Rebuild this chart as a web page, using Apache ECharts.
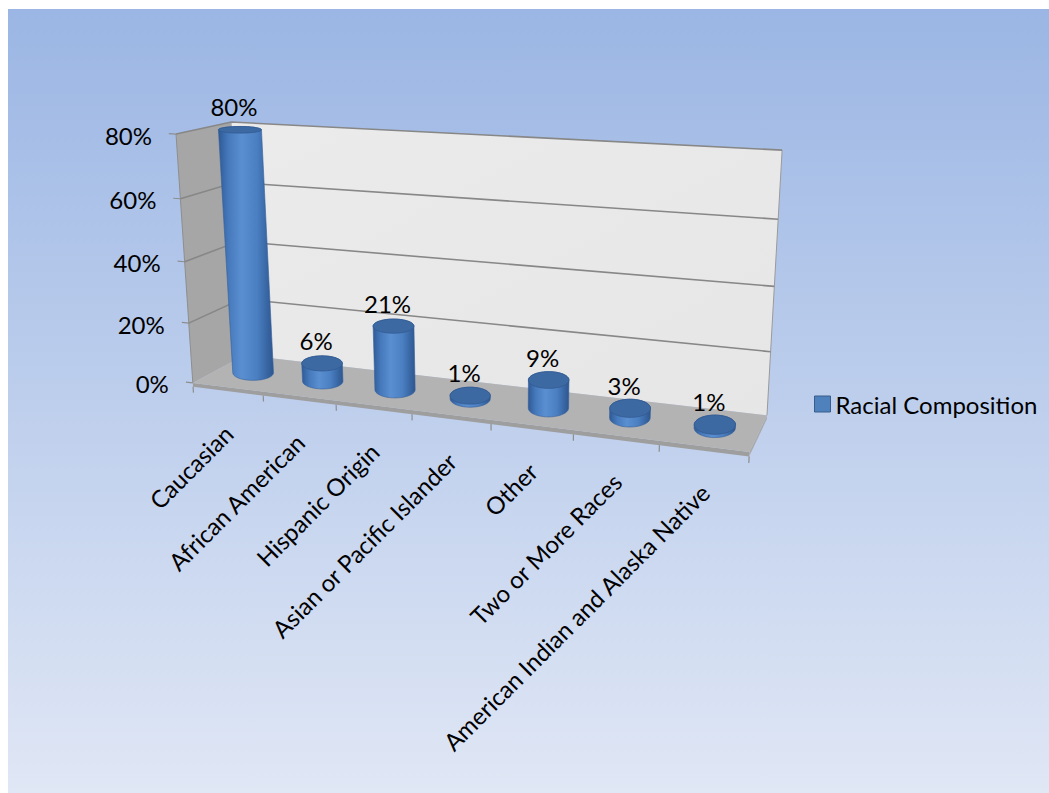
<!DOCTYPE html>
<html>
<head>
<meta charset="utf-8">
<script src="https://cdn.jsdelivr.net/npm/echarts@6/dist/echarts.min.js"></script>
<style>
  html, body { margin: 0; padding: 0; background: #ffffff; }
  #chart { width: 1049px; height: 793px; }
</style>
</head>
<body>
<div id="chart"></div>
<script>
// ---- data ----
const categories = [
  'Caucasian',
  'African American',
  'Hispanic Origin',
  'Asian or Pacific Islander',
  'Other',
  'Two or More Races',
  'American Indian and Alaska Native'
];
const shares = [0.80, 0.06, 0.21, 0.01, 0.09, 0.03, 0.01];
const valueTicks = [0, 0.2, 0.4, 0.6, 0.8];
const valueTickLabels = ['0%', '20%', '40%', '60%', '80%'];
const seriesName = 'Racial Composition';

// ---- layout / style ----
const FONT = 'Lato, "Open Sans", sans-serif';
const FONT_SIZE = 24;
const Y_MAX = 0.8;
const H_PER_UNIT = 10;          // world height units per 1.0 of value
const BOX_H = Y_MAX * H_PER_UNIT;
const NCAT = categories.length;

// Screen anchors of the 3D plot box (world X = category units, H = height, Z = depth 0 front..1 back).
// The perspective camera is solved from them by least squares.
const frontFloorX = [194, 264, 337, 412, 491, 573, 659, 750];
const viewAnchors = [];
frontFloorX.forEach(function (px, k) {
  viewAnchors.push([k, 0, 0, px, 383 + (px - 194) * 0.1241]);
});
viewAnchors.push(
  [0, 0, 1, 244, 355], [7, 0, 1, 767, 415],
  [0, 8, 1, 232, 122], [7, 8, 1, 782, 150],
  [0, 8, 0, 177, 135], [0, 6, 0, 180, 198], [0, 4, 0, 183, 262], [0, 2, 0, 187, 323],
  [7, 6, 1, 778, 218], [7, 4, 1, 775, 287], [7, 2, 1, 770, 353]
);

function solveCamera(anchors) {
  const S = 100, N = 11;
  const M = [], r = new Array(N).fill(0);
  for (let i = 0; i < N; i++) M.push(new Array(N).fill(0));
  function add(row, rhs) {
    for (let i = 0; i < N; i++) {
      r[i] += row[i] * rhs;
      for (let j = 0; j < N; j++) M[i][j] += row[i] * row[j];
    }
  }
  anchors.forEach(function (a) {
    const X = a[0], H = a[1], Z = a[2], x = a[3] / S, y = a[4] / S;
    add([X, H, Z, 1, 0, 0, 0, 0, -x * X, -x * H, -x * Z], x);
    add([0, 0, 0, 0, X, H, Z, 1, -y * X, -y * H, -y * Z], y);
  });
  for (let c = 0; c < N; c++) {
    let p = c;
    for (let k = c + 1; k < N; k++) if (Math.abs(M[k][c]) > Math.abs(M[p][c])) p = k;
    let t = M[c]; M[c] = M[p]; M[p] = t;
    t = r[c]; r[c] = r[p]; r[p] = t;
    for (let k = 0; k < N; k++) {
      if (k === c) continue;
      const f = M[k][c] / M[c][c];
      if (!f) continue;
      for (let j = c; j < N; j++) M[k][j] -= f * M[c][j];
      r[k] -= f * r[c];
    }
  }
  const q = r.map(function (v, i) { return v / M[i][i]; });
  return function (X, H, Z) {
    const w = q[8] * X + q[9] * H + q[10] * Z + 1;
    return [
      S * (q[0] * X + q[1] * H + q[2] * Z + q[3]) / w,
      S * (q[4] * X + q[5] * H + q[6] * Z + q[7]) / w
    ];
  };
}
const P = solveCamera(viewAnchors);

// convert a pixel from the (hidden) cartesian grid into world X / H
function toWorld(coordSys, pt) {
  return {
    X: (pt[0] - coordSys.x) / coordSys.width * NCAT,
    H: (coordSys.y + coordSys.height - pt[1]) / coordSys.height * BOX_H
  };
}

function convexHull(points) {
  const pts = points.slice().sort(function (a, b) { return a[0] - b[0] || a[1] - b[1]; });
  function cross(o, a, b) { return (a[0] - o[0]) * (b[1] - o[1]) - (a[1] - o[1]) * (b[0] - o[0]); }
  const lower = [], upper = [];
  pts.forEach(function (p) {
    while (lower.length >= 2 && cross(lower[lower.length - 2], lower[lower.length - 1], p) <= 0) lower.pop();
    lower.push(p);
  });
  for (let i = pts.length - 1; i >= 0; i--) {
    const p = pts[i];
    while (upper.length >= 2 && cross(upper[upper.length - 2], upper[upper.length - 1], p) <= 0) upper.pop();
    upper.push(p);
  }
  upper.pop(); lower.pop();
  return lower.concat(upper);
}

const R_X = 0.23;   // cylinder radius along the category axis
const R_Z = 0.26;   // cylinder radius along depth
const Z_MID = 0.5;
const SLAB = 0.13;  // floor thickness
const SEG = 72;

// cross-section of a cylinder at height H: a level ellipse spanning the
// bounding box of the projected circle
function ring(X, H) {
  let x0 = Infinity, x1 = -Infinity, y0 = Infinity, y1 = -Infinity;
  for (let k = 0; k < SEG; k++) {
    const a = k / SEG * Math.PI * 2;
    const p = P(X + R_X * Math.cos(a), H, Z_MID + R_Z * Math.sin(a));
    x0 = Math.min(x0, p[0]); x1 = Math.max(x1, p[0]);
    y0 = Math.min(y0, p[1]); y1 = Math.max(y1, p[1]);
  }
  const cx = (x0 + x1) / 2, cy = (y0 + y1) / 2, rx = (x1 - x0) / 2, ry = (y1 - y0) / 2;
  const out = [];
  for (let k = 0; k < SEG; k++) {
    const a = k / SEG * Math.PI * 2;
    out.push([cx + rx * Math.cos(a), cy + ry * Math.sin(a)]);
  }
  out.center = [cx, cy];
  return out;
}

function textStyle(text, align) {
  return { text: text, fill: '#000', font: FONT_SIZE + 'px ' + FONT, align: align, verticalAlign: 'middle' };
}

// walls, floor, gridlines, axis ticks and labels
function renderFrame(params, api) {
  const cs = params.coordSys;
  const children = [];
  const quad = function (pts, fill, z2) {
    children.push({ type: 'polygon', z2: z2 || 0, shape: { points: pts }, style: { fill: fill } });
  };
  const seg = function (pts, stroke, w, z2) {
    children.push({ type: 'polyline', z2: z2 || 1, shape: { points: pts }, style: { stroke: stroke, lineWidth: w, fill: null } });
  };
  // back wall
  quad([P(0, 0, 1), P(NCAT, 0, 1), P(NCAT, BOX_H, 1), P(0, BOX_H, 1)], {
    type: 'linear', x: 0, y: 0, x2: 1, y2: 1,
    colorStops: [{ offset: 0, color: '#ebebeb' }, { offset: 1, color: '#e6e6e6' }]
  });
  // side wall
  quad([P(0, 0, 0), P(0, 0, 1), P(0, BOX_H, 1), P(0, BOX_H, 0)], '#a6a6a6');
  // floor slab: front face, right face, top
  quad([P(0, -SLAB, 0), P(NCAT, -SLAB, 0), P(NCAT, 0, 0), P(0, 0, 0)], '#9e9e9e');
  quad([P(NCAT, -SLAB, 0), P(NCAT, -SLAB, 1), P(NCAT, 0, 1), P(NCAT, 0, 0)], '#a9a9a9');
  quad([P(0, 0, 0), P(NCAT, 0, 0), P(NCAT, 0, 1), P(0, 0, 1)], '#b3b3b3');
  seg([P(NCAT, 0, 1), P(NCAT, BOX_H, 1)], '#9a9a9a', 1);
  seg([P(0, 0, 0), P(0, BOX_H, 0)], '#8e8e8e', 1);

  // value gridlines + ticks + labels, positioned through the value axis
  valueTicks.forEach(function (t, i) {
    const H = toWorld(cs, api.coord([0, t])).H;
    if (t > 0) seg([P(0, H, 0), P(0, H, 1), P(NCAT, H, 1)], '#878787', 1.6, 2);
    const a = P(0, H, 0);
    seg([a, P(-0.1, H, 0)], '#8e8e8e', 1.2, 2);
    children.push({ type: 'text', x: a[0] - 24, y: a[1] + 1, style: textStyle(valueTickLabels[i], 'right') });
  });

  // category ticks and labels
  for (let k = 0; k <= NCAT; k++) {
    seg([P(k, -SLAB, 0), P(k, -SLAB - 0.2, 0)], '#8e8e8e', 1.2, 2);
  }
  categories.forEach(function (name, i) {
    const X = toWorld(cs, api.coord([i, 0])).X;
    const a = P(X, 0, 0);
    children.push({
      type: 'text', x: a[0] + 1, y: a[1] + 42, rotation: Math.PI / 4,
      style: textStyle(name, 'right')
    });
  });
  return { type: 'group', children: children };
}

// one cylinder per category
function renderCylinder(params, api) {
  const cs = params.coordSys;
  const i = api.value(0), v = api.value(1);
  const base = toWorld(cs, api.coord([i, 0]));
  const top = toWorld(cs, api.coord([i, v]));
  const bottomRing = ring(base.X, base.H);
  const topRing = ring(top.X, top.H);
  const body = convexHull(bottomRing.concat(topRing));
  const tc = topRing.center;
  return {
    type: 'group',
    children: [
      {
        type: 'polygon', shape: { points: body },
        style: {
          fill: {
            type: 'linear', x: 0, y: 0, x2: 1, y2: 0,
            colorStops: [
              { offset: 0, color: '#2f5a96' },
              { offset: 0.18, color: '#4579bb' },
              { offset: 0.42, color: '#5a8fd2' },
              { offset: 0.7, color: '#4a7fc2' },
              { offset: 1, color: '#2d568f' }
            ]
          },
          stroke: '#35609a', lineWidth: 0.6
        }
      },
      {
        type: 'polygon', shape: { points: topRing },
        style: { fill: '#3d69a3', stroke: '#32598f', lineWidth: 0.8 }
      },
      {
        type: 'text', x: tc[0] - 6, y: tc[1] - 23,
        style: textStyle(Math.round(v * 100) + '%', 'center')
      }
    ]
  };
}

const chart = echarts.init(document.getElementById('chart'), null, { renderer: 'svg' });
chart.setOption({
  animation: false,
  backgroundColor: '#ffffff',
  graphic: [{
    type: 'rect', z: -10, silent: true,
    shape: { x: 8, y: 9, width: 1041, height: 784 },
    style: {
      fill: {
        type: 'linear', x: 0, y: 0, x2: 0, y2: 1,
        colorStops: [{ offset: 0, color: '#9bb6e4' }, { offset: 1, color: '#e0e7f5' }]
      }
    }
  }],
  grid: { left: 0, top: 0, width: 700, height: 800 },
  xAxis: { type: 'category', data: categories, show: false },
  yAxis: { type: 'value', min: 0, max: Y_MAX, interval: 0.2, show: false },
  legend: {
    left: 809, top: 387, icon: 'rect', itemWidth: 16, itemHeight: 16,
    data: [{ name: seriesName, itemStyle: { color: '#4f81bd', borderColor: '#385d8a', borderWidth: 1 } }],
    textStyle: { fontFamily: FONT, fontSize: FONT_SIZE, color: '#000' }
  },
  series: [
    {
      type: 'custom', name: 'frame', z: 1, silent: true,
      data: [[0, 0]], renderItem: renderFrame
    },
    {
      type: 'custom', name: seriesName, z: 2,
      itemStyle: { color: '#4f81bd' },
      data: shares.map(function (v, i) { return [i, v]; }),
      renderItem: renderCylinder
    }
  ]
});
</script>
</body>
</html>
